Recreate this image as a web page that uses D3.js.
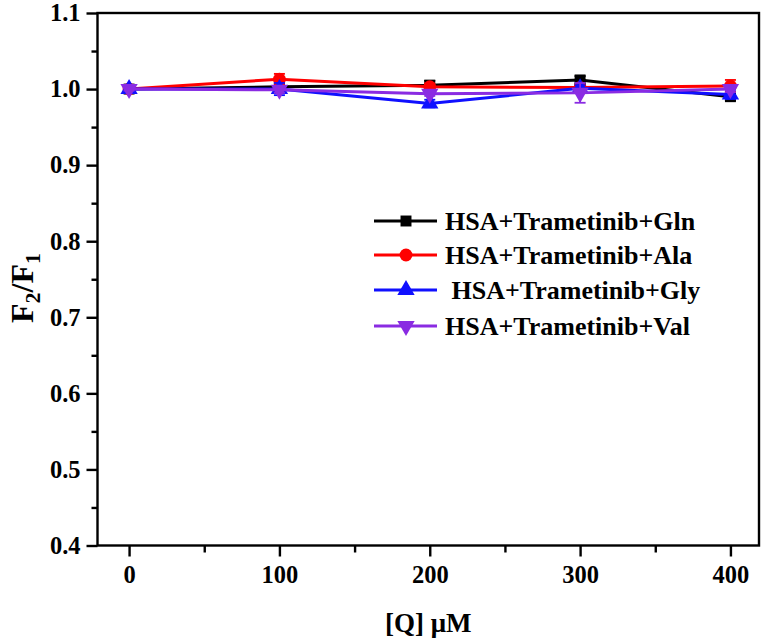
<!DOCTYPE html>
<html><head><meta charset="utf-8">
<script src="https://cdn.jsdelivr.net/npm/d3@7"></script>
<style>
body{margin:0;background:#fff;}
svg{display:block;font-family:"Liberation Serif","Times New Roman",serif;font-weight:bold;}
</style></head>
<body><svg id="c" width="766" height="638"></svg>
<script>
const xValues = [0, 100, 200, 300, 400];
const seriesNames = ["HSA+Trametinib+Gln", "HSA+Trametinib+Ala", " HSA+Trametinib+Gly", "HSA+Trametinib+Val"];
const glnValues = [1.000, 1.003, 1.005, 1.012, 0.990];
const glnErrors = [0.002, 0.004, 0.006, 0.005, 0.005];
const alaValues = [1.000, 1.013, 1.003, 1.002, 1.004];
const alaErrors = [0.002, 0.007, 0.004, 0.003, 0.008];
const glyValues = [1.000, 1.000, 0.981, 1.001, 0.993];
const glyErrors = [0.003, 0.008, 0.005, 0.004, 0.006];
const valValues = [1.000, 0.999, 0.994, 0.995, 1.000];
const valErrors = [0.002, 0.004, 0.003, 0.013, 0.004];
const xTicks = [0, 100, 200, 300, 400];
const yTicks = [0.4, 0.5, 0.6, 0.7, 0.8, 0.9, 1.0, 1.1];

const colors = ["#000000", "#ff0000", "#1010ff", "#8a2be2"];
const symbols = [d3.symbolSquare, d3.symbolCircle, d3.symbolTriangle, "down"];
const seriesVals = [glnValues, alaValues, glyValues, valValues];
const seriesErrs = [glnErrors, alaErrors, glyErrors, valErrors];

const svg = d3.select("#c");
const L = 97.5, R = 759, T = 13, B = 545.5;
const x = d3.scaleLinear().domain([-21, 419]).range([L, R]);
const y = d3.scaleLinear().domain([0.4, 1.1]).range([B, T]);

svg.append("rect").attr("x", L).attr("y", T).attr("width", R - L).attr("height", B - T)
  .attr("fill", "none").attr("stroke", "#000").attr("stroke-width", 2.4);

const xMinor = [50, 150, 250, 350];
const gx = svg.append("g").attr("transform", `translate(0,${B})`)
  .call(d3.axisBottom(x).tickValues(xTicks).tickSize(11).tickSizeOuter(0).tickPadding(9).tickFormat(d3.format("d")));
gx.select(".domain").remove();
gx.selectAll(".tick line").attr("stroke-width", 2.4);
gx.selectAll("text").attr("font-size", 24.5).attr("font-family", "Liberation Serif").attr("font-weight", "bold").attr("fill", "#000");
const gxm = svg.append("g").attr("transform", `translate(0,${B})`)
  .call(d3.axisBottom(x).tickValues(xMinor).tickSize(7).tickFormat(""));
gxm.select(".domain").remove();
gxm.selectAll(".tick line").attr("stroke-width", 2.4);

const yMinor = [0.45, 0.55, 0.65, 0.75, 0.85, 0.95, 1.05];
const gy = svg.append("g").attr("transform", `translate(${L},0)`)
  .call(d3.axisLeft(y).tickValues(yTicks).tickSize(11).tickSizeOuter(0).tickPadding(6).tickFormat(d3.format(".1f")));
gy.select(".domain").remove();
gy.selectAll(".tick line").attr("stroke-width", 2.4);
gy.selectAll("text").attr("font-size", 24.5).attr("font-family", "Liberation Serif").attr("font-weight", "bold").attr("fill", "#000");
const gym = svg.append("g").attr("transform", `translate(${L},0)`)
  .call(d3.axisLeft(y).tickValues(yMinor).tickSize(6).tickFormat(""));
gym.select(".domain").remove();
gym.selectAll(".tick line").attr("stroke-width", 2.4);

svg.append("text").attr("x", (L + R) / 2).attr("y", 632).attr("text-anchor", "middle")
  .attr("font-size", 27).attr("fill", "#000").text("[Q] μM");
const yt = svg.append("text").attr("transform", `translate(33,288) rotate(-90)`)
  .attr("text-anchor", "middle").attr("font-size", 32).attr("fill", "#000");
yt.append("tspan").text("F");
yt.append("tspan").attr("font-size", 22).attr("dy", 7).text("2");
yt.append("tspan").attr("dy", -7).text("/F");
yt.append("tspan").attr("font-size", 22).attr("dy", 7).text("1");

function symPath(i, size) {
  const t = symbols[i] === "down" ? d3.symbolTriangle : symbols[i];
  return d3.symbol().type(t).size(size)();
}
const symSize = [120, 130, 130, 130];

const line = d3.line().x((d, i) => x(xValues[i])).y(d => y(d));
seriesVals.forEach((vals, s) => {
  const g = svg.append("g");
  g.append("path").datum(vals).attr("d", line).attr("fill", "none")
    .attr("stroke", colors[s]).attr("stroke-width", 3);
  vals.forEach((v, i) => {
    const e = seriesErrs[s][i];
    const cx = x(xValues[i]);
    g.append("line").attr("x1", cx).attr("x2", cx).attr("y1", y(v - e)).attr("y2", y(v + e))
      .attr("stroke", colors[s]).attr("stroke-width", 1.8);
    [v - e, v + e].forEach(w => {
      g.append("line").attr("x1", cx - 5.5).attr("x2", cx + 5.5).attr("y1", y(w)).attr("y2", y(w))
        .attr("stroke", colors[s]).attr("stroke-width", 1.8);
    });
    g.append("path").attr("d", symPath(s, symSize[s]))
      .attr("transform", `translate(${cx},${y(v)})` + (symbols[s] === "down" ? " rotate(180)" : ""))
      .attr("fill", colors[s]);
  });
});

const legRows = [221, 255, 290, 326];
const legX1 = 374, legX2 = 437, legM = 406;
seriesNames.forEach((name, s) => {
  const yy = legRows[s];
  svg.append("line").attr("x1", legX1).attr("x2", legX2).attr("y1", yy).attr("y2", yy)
    .attr("stroke", colors[s]).attr("stroke-width", 3);
  svg.append("path").attr("d", symPath(s, symSize[s]))
    .attr("transform", `translate(${legM},${yy})` + (symbols[s] === "down" ? " rotate(180)" : ""))
    .attr("fill", colors[s]);
  svg.append("text").attr("x", 445).attr("y", yy + 9).attr("font-size", 26)
    .attr("fill", "#000").style("white-space", "pre").text(name);
});
</script></body></html>
